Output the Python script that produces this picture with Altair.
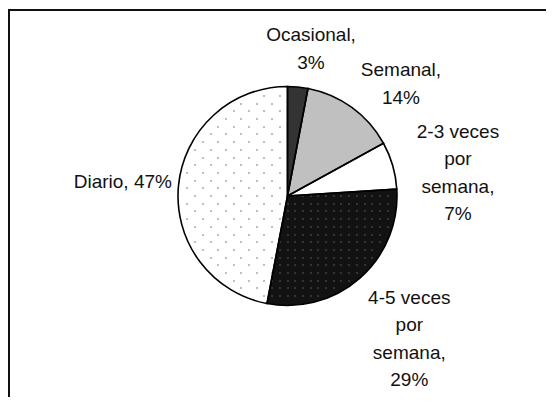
import math
import altair as alt
import pandas as pd

# ---- data ----
categories = ["Ocasional", "Semanal", "2-3 veces por semana", "4-5 veces por semana", "Diario"]
values = [3, 14, 7, 29, 47]
labels = ["Ocasional,\n3%", "Semanal,\n14%", "2-3 veces\npor\nsemana,\n7%",
          "4-5 veces\npor\nsemana,\n29%", "Diario, 47%"]

# ---- style / layout ----
fills = ["#333333", "#c0c0c0", "#ffffff", "#121212", "#ffffff"]
W, H = 538, 389
CX, CY = 279.5, 188
R = 109.5
FONT = "Liberation Sans"
LH = 27.5
# label placement: (radius, dx, dy) of the label block centre
label_layout = [(149, 9.5, 1.3), (159.5, 19.7, 17), (172, 5.3, 25), (187.8, -2.4, 2.1), (165.3, -0.1, 1.3)]

total = sum(values)
cum = [0]
for v in values:
    cum.append(cum[-1] + v)
deg = [c / total * 360 for c in cum]

df = pd.DataFrame({"cat": categories, "value": values, "label": labels, "idx": list(range(len(values)))})
base = alt.Chart(df)

arcs = base.mark_arc(outerRadius=R, strokeWidth=0).encode(
    theta=alt.Theta("value:Q", stack=True),
    order=alt.Order("idx:Q"),
    color=alt.Color("cat:N", scale=alt.Scale(domain=categories, range=fills), legend=None),
    x=alt.value(CX), y=alt.value(CY),
)

# dotted texture for the two patterned slices
SP = 7.7
a3, a4 = deg[3], deg[4]
dots = alt.Chart(alt.sequence(-16, 17, as_="i")).transform_calculate(
    j="sequence(-16, 17)"
).transform_flatten(["j"]).transform_calculate(
    dx=f"datum.i * {SP}", dy=f"datum.j * {SP}"
).transform_calculate(
    rr="sqrt(datum.dx*datum.dx + datum.dy*datum.dy)",
    ang="(atan2(datum.dx, -datum.dy) * 180 / PI + 360) % 360",
    px=f"round({CX} + datum.dx)", py=f"round({CY} + datum.dy)",
).transform_calculate(
    kind=f"(datum.ang >= {a3} && datum.ang < {a4}) ? 'onDark' : ((datum.ang >= {a4} && (datum.i + datum.j) % 2 == 0) ? 'onLight' : 'none')"
).transform_filter(
    f"datum.kind != 'none' && datum.rr < {R - 3}"
).mark_square(size=4.5, opacity=1).encode(
    x=alt.X("px:Q", scale=None),
    y=alt.Y("py:Q", scale=None),
    color=alt.Color("kind:N", scale=alt.Scale(domain=["onDark", "onLight"], range=["#c4c4c4", "#1a1a1a"]), legend=None),
)

outline = base.mark_arc(outerRadius=R, fillOpacity=0, stroke="#000000", strokeWidth=1.6).encode(
    theta=alt.Theta("value:Q", stack=True),
    order=alt.Order("idx:Q"),
    detail="cat:N",
    x=alt.value(CX), y=alt.value(CY),
)

text_base = base.transform_window(
    cum="sum(value)", sort=[alt.SortField("idx")]
).transform_calculate(mid="datum.cum - datum.value / 2")

texts = []
for i, (rad, ddx, ddy) in enumerate(label_layout):
    n_lines = labels[i].count("\n") + 1
    texts.append(
        text_base.transform_filter(alt.datum.idx == i).mark_text(
            radius=rad, dx=ddx, dy=ddy - (n_lines - 1) * LH / 2, font=FONT, fontSize=19,
            lineBreak="\n", lineHeight=LH, align="center", baseline="middle", color="#111111",
        ).encode(
            theta=alt.Theta("mid:Q", stack=None, scale=alt.Scale(domain=[0, total], range=[0, 2 * math.pi])),
            text="label:N",
            x=alt.value(CX), y=alt.value(CY),
        )
    )

one = alt.Data(values=[{"a": 1}])
top_line = alt.Chart(one).mark_rule(color="#111111", strokeWidth=2).encode(
    x=alt.value(0), x2=alt.value(W), y=alt.value(2)
)
left_line = alt.Chart(one).mark_rule(color="#111111", strokeWidth=2).encode(
    x=alt.value(1), y=alt.value(2), y2=alt.value(H)
)

chart = alt.layer(arcs, dots, outline, *texts, top_line, left_line).properties(
    width=W, height=H, padding=0, background="white",
    autosize=alt.AutoSizeParams(type="none"),
).configure_view(stroke=None)

chart.save("out.html", embed_options={"renderer": "svg", "actions": False})
